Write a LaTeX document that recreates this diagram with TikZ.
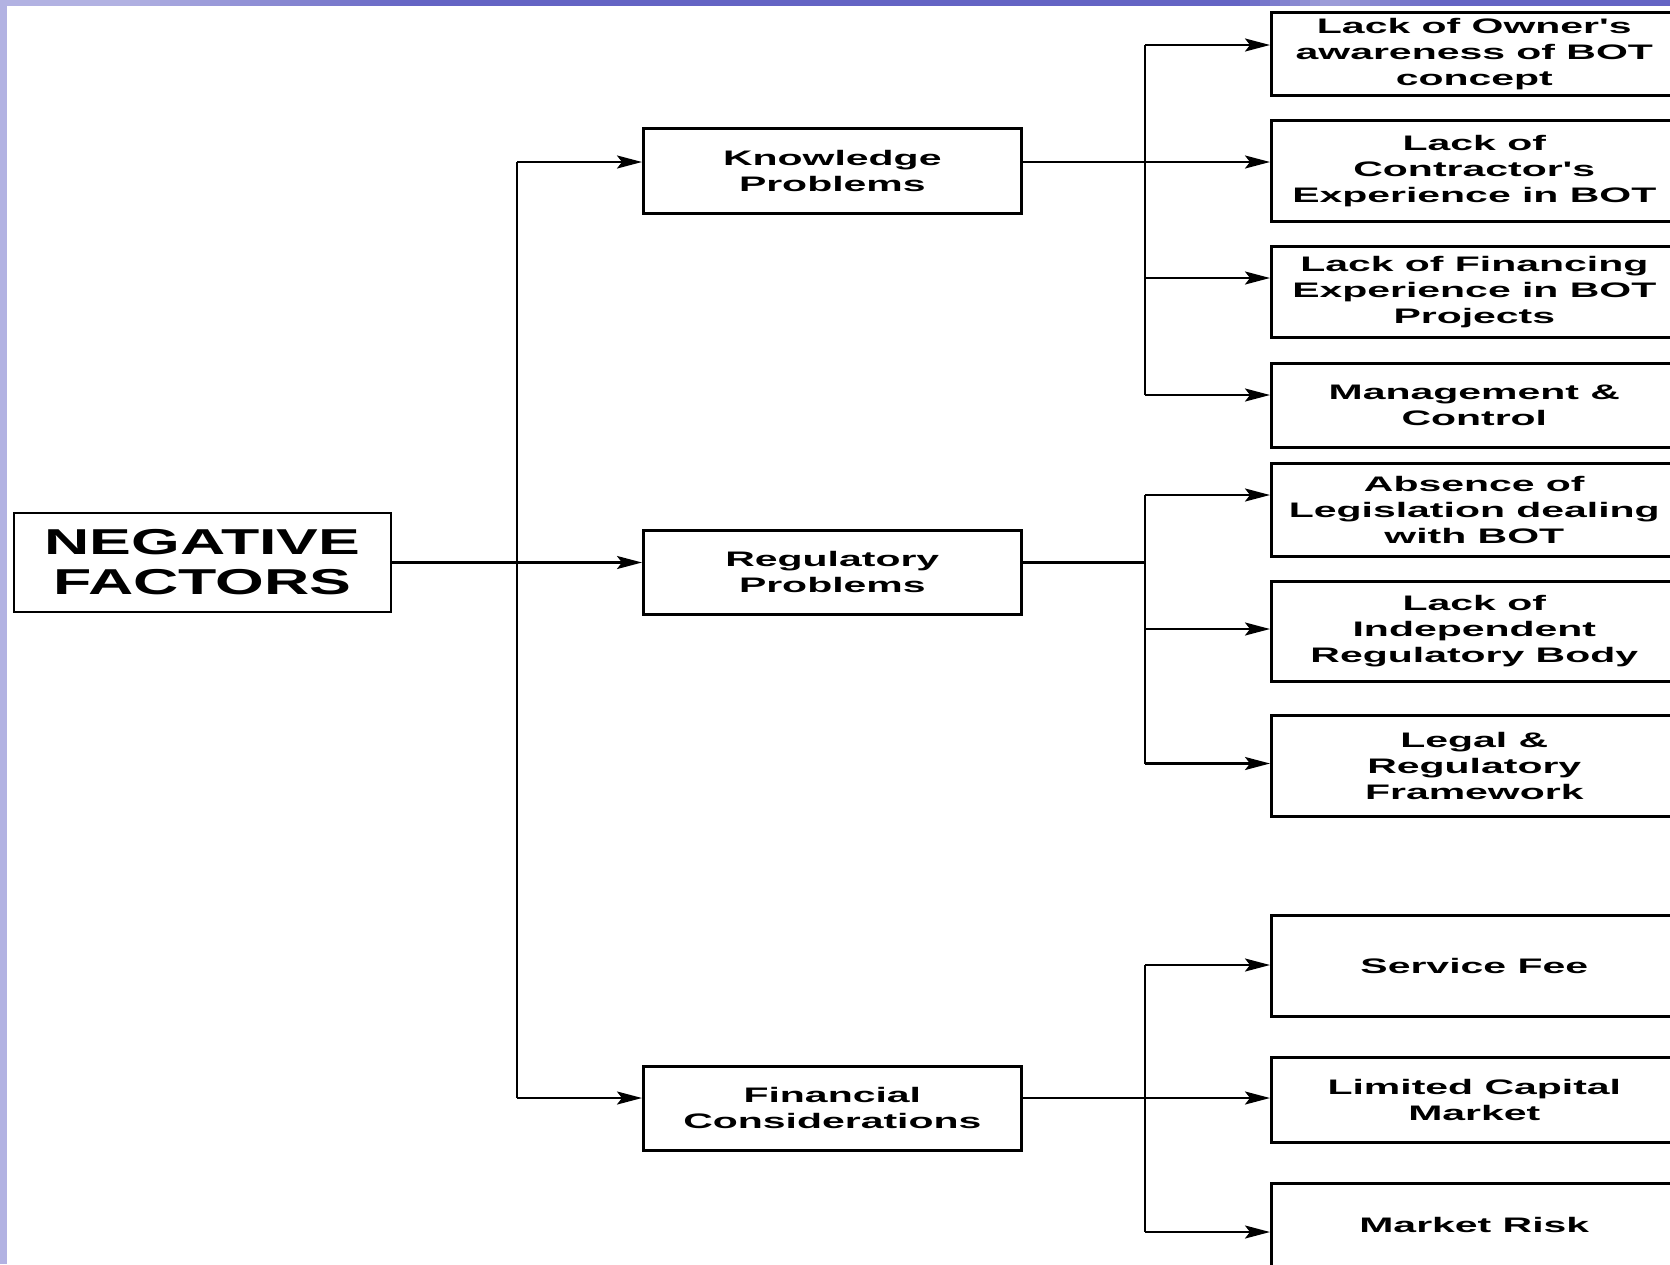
\documentclass[tikz,border=0pt]{standalone}
\usepackage{fontspec}
\usetikzlibrary{arrows.meta}
\newfontfamily\boxfont{Liberation Sans}[FakeStretch=1.95, Ligatures=ResetAll]
\newfontfamily\titlefont{Liberation Sans}[FakeStretch=1.74, Ligatures=ResetAll]
\definecolor{barlight}{HTML}{B2B2E2}
\definecolor{bardark}{HTML}{6464C4}
\definecolor{barmid}{HTML}{9C9CD8}
\tikzset{
  x=1pt, y=-1pt,
  frame/.style={draw=black, line width=2.6pt, fill=white, inner sep=0pt, align=center},
  rootbox/.style={frame, minimum width=377pt, minimum height=99pt,
    font=\titlefont\bfseries\fontsize{36}{40}\selectfont},
  groupbox/.style={frame, minimum width=378pt, anchor=north west,
    font=\boxfont\bfseries\fontsize{21}{26}\selectfont},
  leafbox/.style={frame, minimum width=406pt, anchor=north west,
    font=\boxfont\bfseries\fontsize{21}{26}\selectfont},
  conn/.style={draw=black, line width=2.4pt},
  arr/.style={conn, -{Stealth[length=25pt, width=13pt, inset=5pt]}},
}
\begin{document}
\begin{tikzpicture}
\useasboundingbox (0,0) rectangle (1670,1264);
\begin{scope}
\clip (0,0) rectangle (1670,1264);

% slide frame: lavender strip on the left, graded band along the top
\fill[barlight] (0,0) rectangle (7,1264);
\fill[bardark] (0,0) rectangle (1670,6);
\fill[barlight] (0,0) rectangle (121,6);
\foreach \i in {0,...,29}{
  \pgfmathsetmacro{\pc}{100-\i*100/29}
  \fill[barlight!\pc!bardark] (120+10*\i,0) rectangle (131+10*\i,6);
}
\foreach \i in {0,...,9}{
  \pgfmathsetmacro{\pc}{\i*100/9}
  \fill[barmid!\pc!bardark] (1230+10*\i,0) rectangle (1241+10*\i,6);
}
\foreach \i in {0,...,11}{
  \pgfmathsetmacro{\pc}{100-\i*100/11}
  \fill[barmid!\pc!bardark] (1330+10*\i,0) rectangle (1341+10*\i,6);
}

% root
\node[rootbox] (neg) at (202.5,562.5) {NEGATIVE\\FACTORS};

% groups
\node[groupbox, minimum height=85pt] (know) at (642,127) {Knowledge\\Problems};
\node[groupbox, minimum height=84pt] (reg)  at (642,529) {Regulatory\\Problems};
\node[groupbox, minimum height=84pt] (fin)  at (642,1065) {Financial\\Considerations};

% knowledge factors
\node[leafbox, minimum height=83pt]  (k1) at (1270,11)  {Lack of Owner's\\awareness of BOT\\concept};
\node[leafbox, minimum height=101pt] (k2) at (1270,119) {Lack of\\Contractor's\\Experience in BOT};
\node[leafbox, minimum height=91pt]  (k3) at (1270,245) {Lack of Financing\\Experience in BOT\\Projects};
\node[leafbox, minimum height=84pt]  (k4) at (1270,362) {Management \&\\Control};

% regulatory factors
\node[leafbox, minimum height=93pt]  (r1) at (1270,462) {Absence of\\Legislation dealing\\with BOT};
\node[leafbox, minimum height=100pt] (r2) at (1270,580) {Lack of\\Independent\\Regulatory Body};
\node[leafbox, minimum height=101pt] (r3) at (1270,714) {Legal \&\\Regulatory\\Framework};

% financial factors
\node[leafbox, minimum height=101pt] (f1) at (1270,914)  {Service Fee};
\node[leafbox, minimum height=85pt]  (f2) at (1270,1056) {Limited Capital\\Market};
\node[leafbox, minimum height=84pt]  (f3) at (1270,1182) {Market Risk};

% trunk from the root to the three groups
\coordinate (tTop) at (517,162);
\coordinate (tBot) at (517,1098);
\draw[conn] (tTop) -- (tBot);
\draw[arr] (neg.east) -- (reg.west |- neg.east);
\draw[arr] (tTop) -- (know.west |- tTop);
\draw[arr] (tBot) -- (fin.west |- tBot);

% knowledge branch
\coordinate (kA) at (1145,45);
\coordinate (kC) at (1145,278);
\coordinate (kD) at (1145,395);
\draw[conn] (kA) -- (kD);
\draw[arr] (kA) -- (k1.west |- kA);
\draw[arr] (know.east |- tTop) -- (k2.west |- tTop);
\draw[arr] (kC) -- (k3.west |- kC);
\draw[arr] (kD) -- (k4.west |- kD);

% regulatory branch
\coordinate (rA) at (1145,495);
\coordinate (rM) at (1145,562.5);
\coordinate (rB) at (1145,629);
\coordinate (rC) at (1145,763.5);
\draw[conn] (rA) -- (rC);
\draw[conn] (reg.east |- rM) -- (rM);
\draw[arr] (rA) -- (r1.west |- rA);
\draw[arr] (rB) -- (r2.west |- rB);
\draw[arr] (rC) -- (r3.west |- rC);

% financial branch
\coordinate (fA) at (1145,965);
\coordinate (fC) at (1145,1232);
\draw[conn] (fA) -- (fC);
\draw[arr] (fA) -- (f1.west |- fA);
\draw[arr] (fin.east |- tBot) -- (f2.west |- tBot);
\draw[arr] (fC) -- (f3.west |- fC);
\end{scope}
\end{tikzpicture}
\end{document}
